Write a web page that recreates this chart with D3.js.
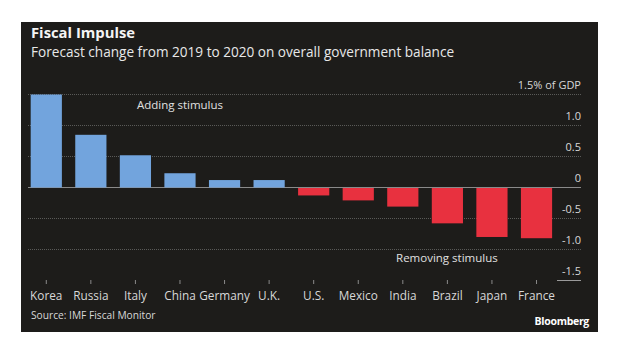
<!DOCTYPE html>
<html><head><meta charset="utf-8">
<script src="https://cdn.jsdelivr.net/npm/d3@7"></script>
<style>
html,body{margin:0;padding:0;background:#fff;}
svg{display:block;font-family:"Open Sans",sans-serif;}
</style></head>
<body><svg id="c" width="620" height="355"></svg>
<script>
const categories = ["Korea","Russia","Italy","China","Germany","U.K.","U.S.","Mexico","India","Brazil","Japan","France"];
const values = [1.5, 0.85, 0.52, 0.23, 0.12, 0.12, -0.12, -0.2, -0.3, -0.57, -0.79, -0.81];
const yTicks = [1.5, 1.0, 0.5, 0, -0.5, -1.0, -1.5];
const yTickLabels = ["1.5% of GDP","1.0","0.5","0","-0.5","-1.0","-1.5"];
const title = "Fiscal Impulse";
const subtitle = "Forecast change from 2019 to 2020 on overall government balance";
const source = "Source: IMF Fiscal Monitor";
const annotations = [{text:"Adding stimulus", cat:"China", dx:0, v:1.26},{text:"Removing stimulus", cat:"Brazil", dx:-0.5, v:-1.2}];

const svg = d3.select("#c");
svg.append("rect").attr("x",21).attr("y",22).attr("width",577).attr("height",310).attr("fill","#1d1c1a");

const x = d3.scaleBand().domain(categories).range([24, 558.8]).paddingInner(0.3).paddingOuter(0.15);
const y = d3.scaleLinear().domain([-1.5, 1.5]).range([280.5, 94.5]);

// gridlines
const g = svg.append("g");
yTicks.forEach((t,i)=>{
  if (t === -1.5) {
    g.append("line").attr("x1",557).attr("x2",581).attr("y1",y(t)).attr("y2",y(t)).attr("stroke","#9a9a9a").attr("stroke-width",1);
  } else if (t === 0) {
    g.append("line").attr("x1",28).attr("x2",581).attr("y1",y(t)).attr("y2",y(t)).attr("stroke","#8a8a8a").attr("stroke-width",1);
  } else {
    g.append("line").attr("x1",28).attr("x2",581).attr("y1",y(t)).attr("y2",y(t)).attr("stroke","#5a5a58").attr("stroke-width",1).attr("stroke-dasharray","1,1");
  }
  g.append("text").attr("x",581).attr("y",y(t)-6).attr("text-anchor","end").attr("fill","#d8d8d8").attr("font-size",11).text(yTickLabels[i]);
});

// bars
svg.append("g").selectAll("rect").data(values).join("rect")
  .attr("x",(d,i)=>x(categories[i]))
  .attr("width",x.bandwidth())
  .attr("y",d=>d>=0?y(d):y(0)+0.5)
  .attr("height",d=>Math.abs(y(d)-y(0)))
  .attr("fill",d=>d>=0?"#72a4dd":"#e8313f");

// x axis ticks & labels
const xa = svg.append("g");
categories.forEach(c=>{
  const cx = x(c)+x.bandwidth()/2;
  xa.append("line").attr("x1",cx).attr("x2",cx).attr("y1",280).attr("y2",284).attr("stroke","#8a8a8a");
  xa.append("text").attr("x",cx).attr("y",300).attr("text-anchor","middle").attr("fill","#d8d8d8").attr("font-size",11.8).text(c);
});

annotations.forEach(a=>{
  svg.append("text").attr("x",x(a.cat)+x.bandwidth()/2+a.dx).attr("y",y(a.v)).attr("text-anchor","middle")
    .attr("fill","#e0e0e0").attr("font-size",11.5).text(a.text);
});

svg.append("text").attr("x",31).attr("y",38).attr("fill","#f4f4f4").attr("font-size",14.8).attr("font-weight","bold").text(title);
svg.append("text").attr("x",31).attr("y",57).attr("fill","#e8e8e8").attr("font-size",13.6).text(subtitle);
svg.append("text").attr("x",31).attr("y",319).attr("fill","#d8d8d8").attr("font-size",10.2).text(source);
svg.append("text").attr("x",589).attr("y",325).attr("text-anchor","end").attr("fill","#ffffff").attr("font-size",10.5).attr("font-weight","bold").attr("letter-spacing","-0.3").text("Bloomberg");
</script></body></html>
